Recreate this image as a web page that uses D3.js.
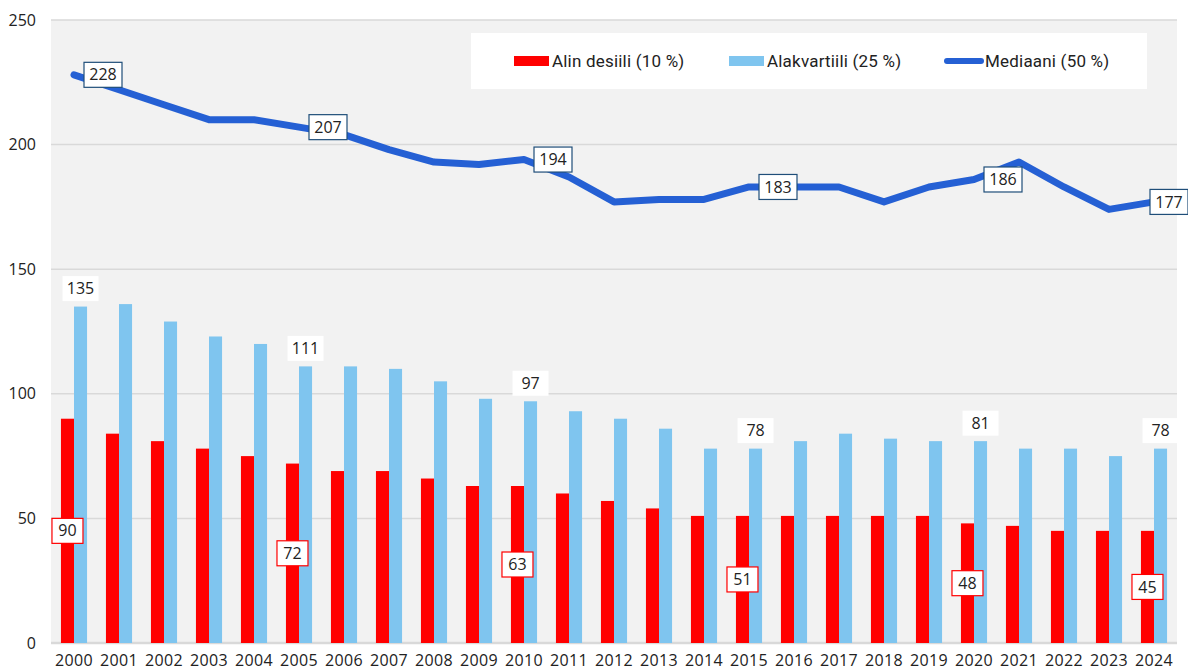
<!DOCTYPE html>
<html>
<head>
<meta charset="utf-8">
<script src="https://cdn.jsdelivr.net/npm/d3@7"></script>
<style>
  body { margin: 0; background: #fff; }
  svg { display: block; font-family: "Open Sans", sans-serif; }
</style>
</head>
<body>
<div id="chart"></div>
<script>
const years = [2000, 2001, 2002, 2003, 2004, 2005, 2006, 2007, 2008, 2009, 2010, 2011, 2012,
  2013, 2014, 2015, 2016, 2017, 2018, 2019, 2020, 2021, 2022, 2023, 2024];
const alinDesiili = [90, 84, 81, 78, 75, 72, 69, 69, 66, 63, 63, 60, 57, 54, 51, 51, 51, 51, 51, 51, 48, 47, 45, 45, 45];
const alakvartiili = [135, 136, 129, 123, 120, 111, 111, 110, 105, 98, 97, 93, 90, 86, 78, 78, 81, 84, 82, 81, 81, 78, 78, 75, 78];
const mediaani = [228, 222, 216, 210, 210, 207, 204, 198, 193, 192, 194, 187, 177, 178, 178, 183, 183, 183, 177, 183, 186, 193, 183, 174, 177];
const labelYears = [2000, 2005, 2010, 2015, 2020, 2024];
const yTicks = [0, 50, 100, 150, 200, 250];
const seriesNames = ["Alin desiili (10 %)", "Alakvartiili (25 %)", "Mediaani (50 %)"];

const width = 1188, height = 670;
const plotLeft = 51, plotRight = 1177, plotTop = 20, plotBottom = 643;
const red = "#ff0000", lightBlue = "#7fc5ef", lineBlue = "#2560d4";

const svg = d3.select("#chart").append("svg")
  .attr("width", width).attr("height", height);

const x = d3.scaleBand().domain(years).range([plotLeft + 0.5, plotRight - 0.5])
  .paddingInner(0.42).paddingOuter(0.21);
const xs = d3.scaleBand().domain(["low", "quart"]).range([0, x.bandwidth()]);
const y = d3.scaleLinear().domain([0, 250]).range([plotBottom, plotTop]);

// plot background
svg.append("rect")
  .attr("x", plotLeft).attr("y", plotTop)
  .attr("width", plotRight - plotLeft).attr("height", plotBottom - plotTop)
  .attr("fill", "#f2f2f2");

// gridlines
svg.append("g")
  .selectAll("line")
  .data(yTicks)
  .join("line")
    .attr("x1", plotLeft).attr("x2", plotRight)
    .attr("y1", d => y(d)).attr("y2", d => y(d))
    .attr("stroke", "#d9d9d9")
    .attr("stroke-width", d => d === 0 ? 2.5 : 1.5);

// y labels
svg.append("g")
  .selectAll("text")
  .data(yTicks)
  .join("text")
    .attr("x", 36).attr("y", d => y(d))
    .attr("dy", "0.35em")
    .attr("text-anchor", "end")
    .attr("font-size", 16)
    .attr("fill", "#222")
    .text(d => d);

// x labels
svg.append("g")
  .selectAll("text")
  .data(years)
  .join("text")
    .attr("x", d => x(d) + x.bandwidth() / 2)
    .attr("y", 660).attr("dy", "0.35em")
    .attr("text-anchor", "middle")
    .attr("font-size", 16)
    .attr("letter-spacing", 0.4)
    .attr("fill", "#222")
    .text(d => d);

const rows = years.map((yr, i) => ({year: yr, low: alinDesiili[i], quart: alakvartiili[i], med: mediaani[i]}));

// bars
svg.append("g")
  .selectAll("rect")
  .data(rows)
  .join("rect")
    .attr("x", d => x(d.year) + xs("low"))
    .attr("y", d => y(d.low))
    .attr("width", xs.bandwidth())
    .attr("height", d => y(0) - y(d.low))
    .attr("fill", red);

svg.append("g")
  .selectAll("rect")
  .data(rows)
  .join("rect")
    .attr("x", d => x(d.year) + xs("quart"))
    .attr("y", d => y(d.quart))
    .attr("width", xs.bandwidth())
    .attr("height", d => y(0) - y(d.quart))
    .attr("fill", lightBlue);

// median line
const line = d3.line()
  .x(d => x(d.year) + x.bandwidth() / 2)
  .y(d => y(d.med));

svg.append("path")
  .datum(rows)
  .attr("d", line)
  .attr("fill", "none")
  .attr("stroke", lineBlue)
  .attr("stroke-width", 7)
  .attr("stroke-linejoin", "round")
  .attr("stroke-linecap", "round");

const labelRows = rows.filter(d => labelYears.includes(d.year));

// quartile labels (white box above blue bar)
const qLab = svg.append("g").selectAll("g")
  .data(labelRows)
  .join("g")
    .attr("transform", d => `translate(${x(d.year) + xs("quart") + xs.bandwidth() / 2},${y(d.quart) - 18})`);
qLab.append("rect")
  .attr("x", -18).attr("y", -12.5).attr("width", 36).attr("height", 25)
  .attr("fill", "#fff");
qLab.append("text")
  .attr("text-anchor", "middle").attr("dy", "0.35em")
  .attr("font-size", 16).attr("fill", "#222")
  .text(d => d.quart);

// decile labels (boxed, mid bar)
const lLab = svg.append("g").selectAll("g")
  .data(labelRows)
  .join("g")
    .attr("transform", d => `translate(${x(d.year) + xs("low") + xs.bandwidth() / 2},${y(d.low / 2)})`);
lLab.append("rect")
  .attr("x", -15.5).attr("y", -12.5).attr("width", 31).attr("height", 25)
  .attr("fill", "#fff").attr("stroke", red).attr("stroke-width", 1.2);
lLab.append("text")
  .attr("text-anchor", "middle").attr("dy", "0.35em")
  .attr("font-size", 16).attr("fill", "#222")
  .text(d => d.low);

// median labels (boxed, right of point)
const mLab = svg.append("g").selectAll("g")
  .data(labelRows)
  .join("g")
    .attr("transform", d => {
      const px = Math.min(x(d.year) + x.bandwidth() / 2 + 10, width - 38);
      return `translate(${px},${y(d.med)})`;
    });
mLab.append("rect")
  .attr("x", 0).attr("y", -12.5).attr("width", 38).attr("height", 25)
  .attr("fill", "#fff").attr("stroke", "#1f4e79").attr("stroke-width", 1.2);
mLab.append("text")
  .attr("x", 19).attr("text-anchor", "middle").attr("dy", "0.35em")
  .attr("font-size", 16).attr("fill", "#222")
  .text(d => d.med);

// legend
const legend = svg.append("g");
legend.append("rect")
  .attr("x", 471).attr("y", 33).attr("width", 676).attr("height", 56)
  .attr("fill", "#fff");
const legendItems = [
  {name: seriesNames[0], x: 514, kind: "bar", color: red},
  {name: seriesNames[1], x: 729, kind: "bar", color: lightBlue},
  {name: seriesNames[2], x: 944, kind: "line", color: lineBlue}
];
const li = legend.selectAll("g")
  .data(legendItems)
  .join("g")
    .attr("transform", d => `translate(${d.x},61)`);
li.filter(d => d.kind === "bar").append("rect")
  .attr("x", 0).attr("y", -5).attr("width", 35).attr("height", 10)
  .attr("fill", d => d.color);
li.filter(d => d.kind === "line").append("line")
  .attr("x1", 3).attr("x2", 37).attr("y1", 0).attr("y2", 0)
  .attr("stroke", d => d.color).attr("stroke-width", 6)
  .attr("stroke-linecap", "round");
li.append("text")
  .attr("x", d => d.kind === "line" ? 41 : 38)
  .attr("dy", "0.35em")
  .attr("font-family", "Roboto, sans-serif")
  .attr("font-size", 17).attr("letter-spacing", 0.2).attr("fill", "#222")
  .text(d => d.name);
</script>
</body>
</html>
